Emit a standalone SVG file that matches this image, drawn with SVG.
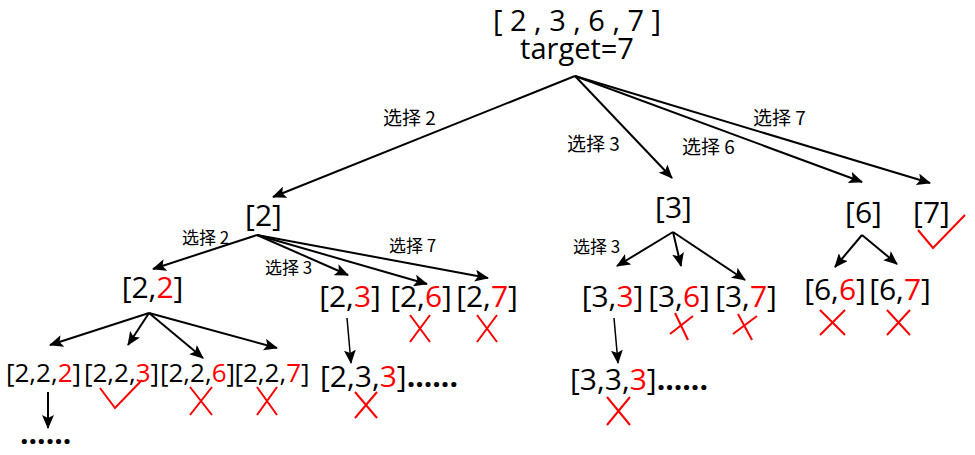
<svg xmlns="http://www.w3.org/2000/svg" width="975" height="455" viewBox="0 0 975 455">
<style>
.t{font-family:"Open Sans","Liberation Sans",sans-serif;font-size:30px;fill:#000}
.s{font-size:26px}
.rt{font-size:29px}
.m{text-anchor:middle}
.r{fill:#FF0000}
.d{font-weight:bold}
.lb{font-family:"Noto Sans CJK SC","Noto Sans",sans-serif;font-size:19px;fill:#000}
.lb2{font-size:17px}
.c line{stroke:#000;stroke-width:2;marker-end:url(#ah)}
.x{stroke:#FF0000;stroke-width:2;fill:none}
</style>
<defs>
<marker id="ah" markerUnits="userSpaceOnUse" markerWidth="14" markerHeight="12" viewBox="0 0 14 12" refX="13" refY="6" orient="auto">
<path d="M0,0 L14,6 L0,12 L3,6 Z" fill="#000"/>
</marker>
</defs>
<rect width="975" height="455" fill="#fff"/>
<g id="connectors" class="c">
<line x1="575" y1="76" x2="273" y2="197"/>
<line x1="575" y1="76" x2="672" y2="178"/>
<line x1="575" y1="76" x2="862" y2="182"/>
<line x1="575" y1="76" x2="930" y2="183"/>
<line x1="257" y1="235" x2="153" y2="269"/>
<line x1="257" y1="235" x2="348" y2="275"/>
<line x1="257" y1="235" x2="427" y2="284"/>
<line x1="257" y1="235" x2="488" y2="278"/>
<line x1="673" y1="232" x2="617" y2="266"/>
<line x1="673" y1="232" x2="681" y2="266"/>
<line x1="673" y1="232" x2="745" y2="280"/>
<line x1="862" y1="235" x2="835" y2="267"/>
<line x1="862" y1="235" x2="897" y2="264"/>
<line x1="149" y1="313" x2="50" y2="345"/>
<line x1="149" y1="313" x2="128" y2="345"/>
<line x1="149" y1="313" x2="203" y2="358"/>
<line x1="149" y1="313" x2="277" y2="348"/>
<line x1="48" y1="392" x2="48" y2="428"/>
<line x1="347" y1="318" x2="351" y2="363" style="stroke-width:1.5"/>
<line x1="614" y1="318" x2="618" y2="363" style="stroke-width:1.5"/>
</g>
<g id="labels">
<text class="lb" x="383" y="125">选择 2</text>
<text class="lb" x="567" y="151">选择 3</text>
<text class="lb" x="682" y="154">选择 6</text>
<text class="lb" x="753" y="125">选择 7</text>
<text class="lb lb2" x="182" y="244">选择 2</text>
<text class="lb lb2" x="265" y="274">选择 3</text>
<text class="lb lb2" x="389" y="252">选择 7</text>
<text class="lb lb2" x="573" y="253">选择 3</text>
</g>
<g id="root">
<text class="t rt m" x="577" y="31">[ 2 , 3 , 6 , 7 ]</text>
<text class="t rt m" x="577" y="59">target=7</text>
</g>
<g id="n2"><text class="t m" x="263.5" y="226">[2]</text></g>
<g id="n3"><text class="t m" x="673.5" y="218">[3]</text></g>
<g id="n6"><text class="t m" x="863.5" y="223">[6]</text></g>
<g id="n7"><text class="t m" x="931.5" y="223">[7]</text>
<polyline class="x" points="918,230 933,248 965,215"/></g>
<g id="n22"><text class="t m" x="152.5" y="298">[2,<tspan class="r">2</tspan>]</text></g>
<g id="n23"><text class="t m" x="350" y="307">[2,<tspan class="r">3</tspan>]</text></g>
<g id="n26"><text class="t m" x="421" y="307">[2,<tspan class="r">6</tspan>]</text>
<path class="x" d="M410,315 L430,342 M430,315 L410,342"/></g>
<g id="n27"><text class="t m" x="487" y="307">[2,<tspan class="r">7</tspan>]</text>
<path class="x" d="M477,315 L497,342 M497,315 L477,342"/></g>
<g id="n33"><text class="t m" x="612.5" y="307">[3,<tspan class="r">3</tspan>]</text></g>
<g id="n36"><text class="t m" x="679" y="307">[3,<tspan class="r">6</tspan>]</text>
<path class="x" d="M675,313 L688,340 M670,334 L693,316"/></g>
<g id="n37"><text class="t m" x="746" y="307">[3,<tspan class="r">7</tspan>]</text>
<path class="x" d="M738,314 L752,340 M733,334 L757,316"/></g>
<g id="n66"><text class="t m" x="835" y="300">[6,<tspan class="r">6</tspan>]</text>
<path class="x" d="M820,310 L845,335 M845,310 L820,335"/></g>
<g id="n67"><text class="t m" x="900" y="300">[6,<tspan class="r">7</tspan>]</text>
<path class="x" d="M887,310 L910,335 M910,310 L887,335"/></g>
<g id="n222"><text class="t s m" x="43.5" y="382">[2,2,<tspan class="r">2</tspan>]</text>
<text class="t d" x="20" y="444">......</text></g>
<g id="n223"><text class="t s m" x="121.5" y="382">[2,2,<tspan class="r">3</tspan>]</text>
<polyline class="x" points="100,388 115,408 142,380"/></g>
<g id="n226"><text class="t s m" x="197.5" y="382">[2,2,<tspan class="r">6</tspan>]</text>
<path class="x" d="M190,387 L212,415 M212,387 L190,415"/></g>
<g id="n227"><text class="t s m" x="272" y="382">[2,2,<tspan class="r">7</tspan>]</text>
<path class="x" d="M257,387 L277,415 M277,387 L257,415"/></g>
<g id="n233"><text class="t" x="320" y="387">[2,3,<tspan class="r">3</tspan>]<tspan class="d">......</tspan></text>
<path class="x" d="M355,392 L377,418 M377,392 L355,418"/></g>
<g id="n333"><text class="t" x="570" y="390">[3,3,<tspan class="r">3</tspan>]<tspan class="d">......</tspan></text>
<path class="x" d="M607,397 L630,425 M630,397 L607,425"/></g>
</svg>
